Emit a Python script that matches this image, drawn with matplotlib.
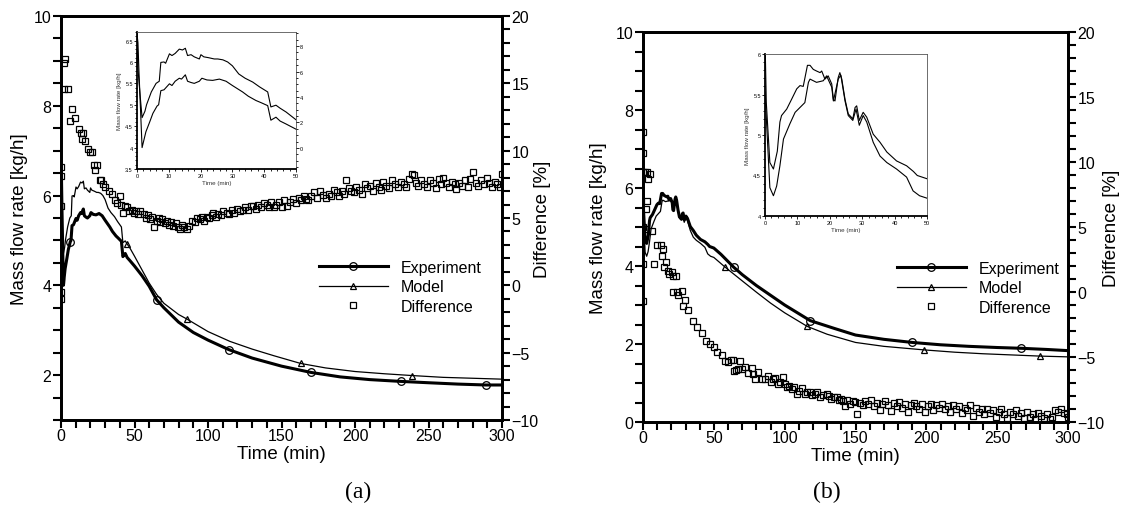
import numpy as np
import matplotlib
matplotlib.use("Agg")
import matplotlib.pyplot as plt
from matplotlib.ticker import MultipleLocator, FuncFormatter

plt.rcParams['font.family'] = ['Liberation Sans', 'DejaVu Sans']

# ---------------- panel (a) ----------------
exp_a_t = [0, 0.3, 0.6, 1.6, 2.8, 4.0, 5.0, 6.3, 6.8, 7.5, 8.5, 10.2, 11.0, 12.0, 13.3, 14.0, 15.2, 15.9,
           17.0, 18.0, 19.6, 20.4, 22.0, 23.8, 25.9, 28.0, 30.0, 33.2, 35.0, 37.4, 39.0, 41.1, 42.1, 43.7,
           45.0, 46.9, 50, 55, 60, 65, 70, 80, 90, 100, 114, 130, 150, 170, 190, 210, 231, 250, 270, 289, 300]
exp_a_v = [6.65, 6.45, 5.8, 4.0, 4.37, 4.6, 4.8, 4.97, 5.0, 5.33, 5.35, 5.49, 5.45, 5.55, 5.62, 5.6, 5.70, 5.55,
           5.52, 5.5, 5.55, 5.62, 5.58, 5.57, 5.6, 5.55, 5.45, 5.3, 5.2, 5.1, 5.05, 4.98, 4.64, 4.71,
           4.62, 4.55, 4.43, 4.22, 3.98, 3.68, 3.5, 3.18, 2.95, 2.78, 2.57, 2.38, 2.2, 2.06, 1.96, 1.9, 1.86, 1.83, 1.8, 1.78, 1.78]
model_a_t = [0, 0.3, 1.0, 1.6, 2.5, 3.0, 4.5, 6.0, 7.0, 7.5, 8.5, 9.0, 10.2, 11.0, 12.0, 13.3, 14.3, 15.2, 15.9,
             17.0, 18.0, 19.6, 20.1, 21.0, 22.5, 24.3, 25.4, 27.0, 28.5, 30.0, 32.0, 34.0, 36.4, 38.5, 41.1, 42.1,
             43.7, 45.0, 46.9, 50, 55, 60, 65, 70, 80, 85.6, 100, 115, 130, 145, 163, 180, 200, 220, 239, 260, 280, 300]
model_a_v = [6.7, 5.84, 5.2, 4.7, 4.85, 5.0, 5.3, 5.5, 5.55, 5.99, 6.0, 5.97, 6.19, 6.15, 6.2, 6.3, 6.28, 6.32, 6.15,
             6.17, 6.12, 6.07, 6.17, 6.12, 6.1, 6.07, 6.07, 6.05, 6.0, 5.91, 5.72, 5.62, 5.53, 5.42, 5.3, 4.95,
             4.99, 4.92, 4.83, 4.65, 4.35, 4.05, 3.8, 3.6, 3.35, 3.25, 2.97, 2.75, 2.58, 2.43, 2.26, 2.16, 2.08, 2.03, 1.99, 1.95, 1.93, 1.91]
exp_a_marks = [6.3, 65, 114, 170, 231, 289]
model_a_marks = [45.0, 85.6, 163, 239]

diff_a_t = [0, 0, 0, 0, 0, 0, 2.2, 2.9, 2.2, 4.5, 6.3, 7.5, 9.7, 12.0, 13.3, 14.0, 14.7, 16.5, 18.1, 19.9, 21.0,
            22.2, 23.3, 24.5, 26.3, 27.5, 28.5, 30.0, 32.4, 34.6, 36.9, 38.0, 39.8, 41.0, 42.0, 43.8, 45.0, 46.5,
            48.0, 49.4, 51.0, 52.5, 54.0, 56.2, 57.5, 59.0, 60.7, 62.0, 63.6, 65.0, 66.5, 67.5, 69.0, 70.5, 72.0,
            73.5, 75.0, 76.5, 78.0, 79.5, 81.0, 82.5, 84.0, 85.7, 87.0, 89.0, 91.0, 92.5, 94.7, 96.0, 97.5, 99.3,
            101.0, 102.5, 103.7, 105.5, 107.0, 109.0, 110.5, 112.8, 114.5, 116.0, 118.0, 120.0, 121.9, 123.5,
            125.5, 127.0, 129.0, 130.7, 132.5, 134.0, 136.0, 138.0, 140.0, 141.5, 143.0, 145.0, 146.5, 148.0,
            150.0, 152.0, 154.0, 156.0, 158.0, 160.0, 162.0, 163.5, 165.0, 166.5, 168.0, 170.0, 172.0, 174.0,
            176.0, 178.0, 180.0, 182.0, 184.0, 186.0, 187.6, 189.0, 191.0, 192.5, 194.0, 196.0, 197.5, 199.0,
            201.0, 203.0, 205.0, 207.0, 208.5, 210.0, 212.0, 214.0, 216.0, 217.5, 219.0, 221.0, 223.0, 225.0,
            227.0, 229.0, 231.0, 233.0, 235.0, 237.0, 238.5, 240.0, 241.5, 243.0, 245.0, 247.0, 249.0, 251.0,
            253.0, 255.0, 257.0, 258.5, 260.0, 262.0, 264.0, 266.0, 268.0, 269.0, 271.0, 273.0, 275.0, 277.0,
            278.0, 280.0, 282.0, 284.0, 286.0, 288.0, 289.6, 291.0, 293.0, 295.0, 296.5, 298.6, 300.0]
diff_a_v = [8.8, 8.1, 5.9, 0.3, -0.5, -1.0, 16.5, 16.8, 14.6, 14.6, 12.2, 13.1, 12.4, 11.6, 11.3, 10.9, 11.3, 10.7,
            10.1, 9.9, 9.9, 8.9, 8.6, 8.9, 7.8, 7.8, 7.5, 7.3, 7.0, 6.8, 6.3, 6.1, 6.6, 6.0, 5.4, 5.9, 5.8, 5.5,
            5.6, 5.4, 5.5, 5.3, 5.5, 5.3, 5.0, 5.2, 4.9, 5.1, 4.3, 4.8, 5.0, 4.7, 4.9, 4.6, 4.8,
            4.5, 4.7, 4.4, 4.6, 4.3, 4.2, 4.5, 4.3, 4.2, 4.4, 4.8, 4.7, 5.0, 4.9, 5.1, 4.8, 5.05,
            5.0, 5.2, 5.4, 5.1, 5.3, 5.2, 5.5, 5.4, 5.3, 5.6, 5.4, 5.7, 5.5, 5.6,
            5.8, 5.6, 5.9, 5.9, 5.7, 6.0, 5.8, 6.1, 6.0, 5.8, 6.2, 5.8, 6.0, 6.2,
            5.8, 6.3, 5.9, 6.2, 6.4, 6.1, 6.5, 6.3, 6.65, 6.4, 6.3, 6.6, 6.9, 6.5,
            7.0, 6.7, 6.5, 6.8, 6.6, 7.1, 6.9, 6.6, 7.0, 6.8, 7.8, 7.2, 7.0, 6.9,
            7.3, 7.1, 6.8, 7.5, 7.2, 7.4, 7.0, 7.6, 7.3, 7.1, 7.65, 7.4, 7.2, 7.8,
            7.5, 7.3, 7.7, 7.5, 7.3, 7.9, 8.3, 8.2, 7.6, 7.4, 7.8, 7.5, 7.3, 7.8,
            7.6, 7.2, 7.9, 7.5, 8.0, 7.6, 7.3, 7.7, 7.5, 7.15, 7.6, 7.4, 7.8, 7.3,
            7.9, 8.4, 7.6, 7.4, 7.8, 7.5, 8.0, 7.6, 7.3, 7.7, 7.5, 7.3, 8.3]

# ---------------- panel (b) ----------------
exp_b_t = [0, 0.4, 1.5, 2.6, 3.8, 4.6, 5.1, 6.7, 8.2, 9.8, 10.8, 11.8, 13.1, 13.9, 14.9, 15.9, 17.0, 17.5, 18.5,
           19.5, 20.6, 21.1, 21.6, 22.6, 23.1, 23.7, 24.7, 25.7, 27.1, 27.8, 28.3, 29.1, 30.3, 31.4, 33.4, 35.5,
           37.6, 40.6, 43.7, 45.8, 47.0, 50, 55, 64, 70, 80, 90, 100, 118, 135, 150, 170, 190, 210, 230, 250, 267, 285, 300]
exp_b_v = [6.2, 5.4, 4.66, 4.58, 4.8, 5.16, 5.24, 5.32, 5.44, 5.57, 5.61, 5.6, 5.86, 5.86, 5.81, 5.79, 5.77, 5.79, 5.69,
           5.73, 5.63, 5.44, 5.42, 5.71, 5.77, 5.69, 5.44, 5.26, 5.2, 5.34, 5.36, 5.18, 5.28, 5.22, 5.01, 4.91,
           4.79, 4.68, 4.62, 4.55, 4.5, 4.46, 4.3, 3.97, 3.78, 3.5, 3.25, 3.0, 2.6, 2.4, 2.23, 2.12, 2.04, 1.98, 1.94, 1.91, 1.89, 1.86, 1.83]
model_b_t = [0, 1.5, 2.6, 3.6, 4.6, 5.7, 7.7, 9.3, 10.8, 12.3, 13.4, 13.9, 15.9, 18.0, 19.0, 20.6, 21.1, 22.6, 23.4,
             24.7, 25.7, 27.1, 28.1, 29.1, 30.3, 31.4, 33.4, 35.5, 37.6, 40.6, 43.7, 45.7, 47.7, 50, 58, 70, 80,
             90, 100, 116, 130, 150, 170, 198, 220, 240, 260, 280, 300]
model_b_v = [5.53, 4.35, 4.25, 4.37, 4.62, 4.95, 5.14, 5.28, 5.34, 5.4, 5.65, 5.69, 5.65, 5.67, 5.73, 5.59, 5.42, 5.69, 5.74,
             5.42, 5.24, 5.18, 5.32, 5.12, 5.24, 5.16, 4.91, 4.74, 4.66, 4.58, 4.48, 4.31, 4.25, 4.22, 3.97, 3.62, 3.33,
             3.05, 2.8, 2.45, 2.25, 2.04, 1.94, 1.85, 1.79, 1.75, 1.72, 1.69, 1.67]
exp_b_marks = [64, 118, 190, 267]
model_b_marks = [58, 116, 198, 280]

diff_b_t = [0, 0, 0, 0, 0, 0, 1.4, 2.6, 3.8, 4.9, 2.6, 2.4, 1.4, 6.1, 8.0, 10.1, 12.5, 13.2, 14.3, 15.0, 16.3, 17.4,
            18.6, 20.2, 21.4, 23.3, 21.0, 24.2, 25.0, 27.3, 28.4, 29.6, 32.0, 35.0, 37.9, 41.4, 44.5, 47.3, 50.1,
            52.0, 55.5, 57.9, 60.2, 61.9, 63.7, 64.2, 65.5, 67.3, 68.5, 70.0, 72.0, 74.3, 76.7, 77.8, 79.0, 81.4,
            83.8, 86.0, 88.4, 90.0, 92.0, 93.5, 95.5, 97.0, 98.6, 100.0, 101.4, 103.0, 105.0, 106.5, 108.5, 110.0,
            112.0, 114.3, 116.0, 117.9, 119.5, 121.4, 123.0, 124.9, 127.0, 129.6, 131.5, 133.0, 135.0, 136.7,
            138.5, 140.0, 141.5, 142.6, 144.0, 146.0, 148.0, 149.6, 151.0, 153.0, 155.0, 157.0, 159.0, 161.0,
            163.0, 165.0, 167.0, 169.0, 171.0, 173.0, 175.0, 177.0, 179.0, 181.0, 183.0, 185.0, 187.0, 189.0,
            191.0, 193.0, 195.0, 197.0, 199.0, 201.0, 203.0, 205.0, 207.0, 209.0, 211.0, 213.0, 215.0, 217.0,
            219.0, 221.0, 223.0, 225.0, 227.0, 229.0, 231.0, 233.0, 235.0, 237.0, 239.0, 241.0, 243.0, 245.0,
            247.0, 249.0, 251.0, 253.0, 255.0, 257.0, 259.0, 261.0, 263.0, 265.0, 267.0, 269.0, 271.0, 273.0,
            275.0, 277.0, 279.0, 281.0, 283.0, 285.0, 287.0, 289.0, 291.0, 293.0, 295.0, 297.0, 299.0, 300.0]
diff_b_v = [12.3, 10.7, 9.2, 5.0, 2.15, -0.67, 9.2, 9.2, 8.7, 9.1, 7.0, 6.4, 4.85, 4.7, 2.15, 3.6, 3.6, 2.75, 3.3, 1.9,
            2.3, 1.6, 1.35, 1.55, 1.2, 1.2, 0.0, 0.0, -0.2, 0.1, -1.05, -0.6, -1.38, -2.25, -2.67, -3.18, -3.75, -4.0,
            -4.25, -4.59, -4.85, -5.28, -5.36, -5.23, -5.23, -6.05, -6.0, -5.92, -5.28, -5.9, -5.79, -6.25, -5.87,
            -6.3, -6.69, -6.18, -6.69, -6.69, -6.44, -6.9, -6.7, -6.6, -7.08, -6.9, -6.56, -7.1, -7.33, -7.2, -7.46,
            -7.3, -7.85, -7.6, -7.4, -7.85, -7.7, -7.67, -7.9, -7.85, -7.7, -8.1, -7.95, -7.85, -8.0, -8.23, -8.1,
            -8.1, -8.3, -8.23, -8.4, -8.75, -8.3, -8.6, -8.4, -8.48, -9.38, -8.5, -8.7, -8.4, -8.6, -8.3, -8.75,
            -8.5, -9.1, -8.6, -8.4, -8.7, -9.15, -8.5, -8.8, -8.45, -8.9, -8.6, -9.2, -8.7, -8.5, -8.8, -9.0, -8.6,
            -9.2, -8.8, -8.6, -9.1, -8.7, -8.9, -8.6, -9.0, -8.8, -9.2, -8.7, -9.0, -8.8, -9.3, -8.9, -9.1, -8.7,
            -9.5, -8.9, -9.2, -9.0, -9.4, -9.0, -9.3, -9.1, -9.6, -9.2, -9.0, -9.4, -9.7, -9.2, -9.4, -9.1, -9.5,
            -9.3, -9.7, -9.2, -9.6, -9.4, -9.8, -9.3, -9.5, -9.7, -9.4, -9.8, -9.6, -9.1, -9.2, -9.0, -9.3, -9.4, -9.6]

W, H = 1123, 506
fig = plt.figure(figsize=(W / 100, H / 100), dpi=100)


def box(x0, y0, x1, y1):
    # pixel box -> figure fraction rect
    return [x0 / W, 1 - y1 / H, (x1 - x0) / W, (y1 - y0) / H]


def mark_idx(t, marks):
    t = np.asarray(t)
    return [int(np.argmin(np.abs(t - m))) for m in marks]


def style_ticks(ax, lw=1.5, length=6, size=11.5, pad=1):
    for s in ax.spines.values():
        s.set_linewidth(2)
    ax.tick_params(which='both', direction='out', width=lw, length=length, labelsize=size, pad=pad)


def main_panel(rect, exp_t, exp_v, exp_m, mod_t, mod_v, mod_m, dt, dv, ylim, ylab_x, y2lab_x):
    ax = fig.add_axes(rect)
    ax2 = ax.twinx()
    ax.plot(exp_t, exp_v, color='black', lw=2.2, marker='o', ms=5.5, mfc='none', mew=0.9,
            markevery=mark_idx(exp_t, exp_m), label='Experiment')
    ax.plot(mod_t, mod_v, color='black', lw=0.9, marker='^', ms=4.5, mfc='none', mew=0.9,
            markevery=mark_idx(mod_t, mod_m), label='Model')
    ax2.plot(dt, dv, ls='none', marker='s', ms=4.8, mfc='none', mec='black', mew=0.9, label='Difference')
    ax.set_xlim(0, 300)
    ax.set_ylim(*ylim)
    ax2.set_ylim(-10, 20)
    ax.xaxis.set_major_locator(MultipleLocator(50))
    ax.xaxis.set_minor_locator(MultipleLocator(10))
    ax.yaxis.set_major_locator(MultipleLocator(2))
    ax.yaxis.set_minor_locator(MultipleLocator(0.5))
    ax2.yaxis.set_major_locator(MultipleLocator(5))
    ax2.yaxis.set_minor_locator(MultipleLocator(1))
    style_ticks(ax)
    style_ticks(ax2)
    ax.tick_params(axis='x', pad=0)
    ax.set_xlabel('Time (min)', fontsize=13.5, labelpad=1)
    ax.set_ylabel('Mass flow rate [kg/h]', fontsize=13.5)
    ax2.set_ylabel('Difference [%]', fontsize=13.5)
    ax.yaxis.set_label_coords(ylab_x, 0.5)
    ax2.yaxis.set_label_coords(y2lab_x, 0.5)
    return ax, ax2


def inset(rect, exp_t, exp_v, mod_t, mod_v, ylim, right_ylim=None):
    ai = fig.add_axes(rect)
    ai.plot(exp_t, exp_v, color='black', lw=0.8)
    ai.plot(mod_t, mod_v, color='black', lw=0.8)
    ai.set_xlim(0, 50)
    ai.set_ylim(*ylim)
    ai.xaxis.set_major_locator(MultipleLocator(10))
    ai.xaxis.set_minor_locator(MultipleLocator(2))
    ai.yaxis.set_major_locator(MultipleLocator(0.5))
    ai.yaxis.set_minor_locator(MultipleLocator(0.1))
    ai.yaxis.set_major_formatter(FuncFormatter(lambda v, p: '%g' % v))
    ai.tick_params(which='both', direction='out', labelsize=4, width=0.6, length=2, pad=1)
    ai.tick_params(which='minor', length=1.2)
    ai.spines['left'].set_linewidth(1.3)
    ai.spines['bottom'].set_linewidth(1.3)
    for s in ('top', 'right'):
        ai.spines[s].set_linewidth(0.6)
        ai.spines[s].set_color('#555555')
    ai.set_xlabel('Time (min)', fontsize=4.5, labelpad=1, color='#333333')
    ai.set_ylabel('Mass flow rate [kg/h]', fontsize=4.5, labelpad=2, color='#333333')
    if right_ylim is not None:
        ar = ai.twinx()
        ar.set_ylim(*right_ylim)
        ar.yaxis.set_major_locator(MultipleLocator(2))
        ar.yaxis.set_minor_locator(MultipleLocator(0.5))
        ar.tick_params(which='both', direction='out', labelsize=4, width=0.6, length=2, pad=1)
        ar.tick_params(which='minor', length=1.2)
        for s in ar.spines.values():
            s.set_visible(False)
    return ai


ax_a, ax2_a = main_panel(box(61, 17, 502, 421), exp_a_t, exp_a_v, exp_a_marks,
                         model_a_t, model_a_v, model_a_marks, diff_a_t, diff_a_v,
                         (1, 10), (28 - 61) / 441, (534 - 61) / 441)
ax_b, ax2_b = main_panel(box(643, 33, 1068, 423), exp_b_t, exp_b_v, exp_b_marks,
                         model_b_t, model_b_v, model_b_marks, diff_b_t, diff_b_v,
                         (0, 10), (607 - 643) / 425, (1103 - 643) / 425)

for ax, ax2, x0, y0 in ((ax_a, ax2_a, 319, 261), (ax_b, ax2_b, 897, 262)):
    h1, l1 = ax.get_legend_handles_labels()
    h2, l2 = ax2.get_legend_handles_labels()
    fig.legend(h1 + h2, l1 + l2, loc='upper left', bbox_to_anchor=(x0 / W, 1 - y0 / H),
               frameon=False, fontsize=11.5, handlelength=4.3, handletextpad=0.8,
               borderpad=0, borderaxespad=0, labelspacing=0.28)

inset(box(137, 33, 296, 170), exp_a_t, exp_a_v, model_a_t, model_a_v, (3.5, 6.7), (-1.65, 9.1))
inset(box(765, 55, 927, 217), exp_b_t, exp_b_v, model_b_t, model_b_v, (4, 6))

fig.text(358 / W, 1 - 492 / H, '(a)', ha='center', va='center', fontsize=17, family='Liberation Serif')
fig.text(827 / W, 1 - 492 / H, '(b)', ha='center', va='center', fontsize=17, family='Liberation Serif')

fig.savefig('out.png', dpi=100)
